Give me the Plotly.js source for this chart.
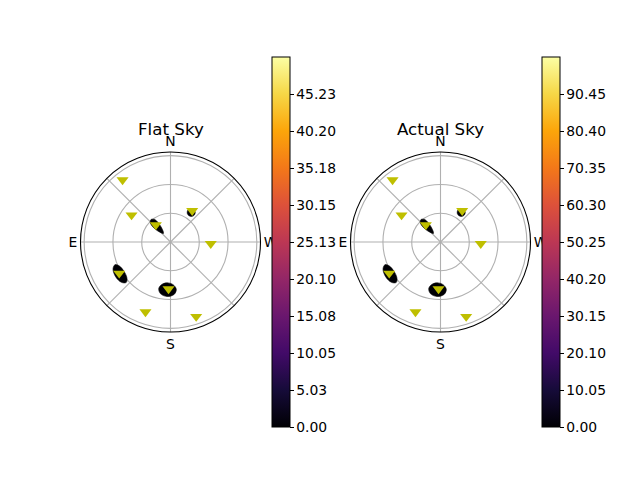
<!DOCTYPE html>
<html><head><meta charset="utf-8">
<script src="https://cdn.plot.ly/plotly-3.0.1.min.js"></script>
<style>html,body{margin:0;padding:0;background:#fff}</style>
</head><body><div id="plot" style="width:640px;height:480px"></div>
<script>
// Star positions (azimuth deg, zenith distance) — same stars on both panels
const starAz  = [37.7, 55.3, 40.8, 325.3, 267.6, 121.4, 177.6, 160.3, 199.0];
const starZen = [81.7, 49.4, 23.4, 39.7, 42.0, 62.6, 49.0, 77.4, 82.2];

// Density blobs (outline points: zenith distance, azimuth)
const blobSouthZen = [56.9, 54.8, 49.8, 44.8, 42.7, 44.8, 49.8, 54.8, 56.9];
const blobSouthAz  = [176.4, 183.9, 187.0, 183.9, 176.4, 168.9, 165.8, 168.9, 176.4];
const blobSEZen = [67.7, 66.2, 62.5, 58.8, 57.3, 58.8, 62.5, 66.2, 67.7];
const blobSEAz  = [122.3, 129.4, 132.4, 129.4, 122.3, 115.2, 112.2, 115.2, 122.3];
const blobNEZen = [31.0, 28.5, 21.0, 14.0, 11.5, 14.0, 21.0, 28.5, 31.0];
const blobNEAz  = [41.0, 47.0, 50.0, 46.0, 40.0, 34.0, 32.0, 35.0, 41.0];
const blobNWZen = [41.5, 40.5, 37.5, 34.5, 33.5, 34.5, 37.5, 40.5, 41.5];
const blobNWAz  = [325.0, 329.5, 331.5, 329.5, 325.0, 320.5, 318.5, 320.5, 325.0];

// Colorbar scales
const flatMax = 50.25;
const flatTicks = [0, 5.025, 10.05, 15.075, 20.1, 25.125, 30.15, 35.175, 40.2, 45.225];
const flatTickText = ['0.00','5.03','10.05','15.08','20.10','25.13','30.15','35.18','40.20','45.23'];
const actualMax = 100.5;
const actualTicks = [0, 10.05, 20.1, 30.15, 40.2, 50.25, 60.3, 70.35, 80.4, 90.45];
const actualTickText = ['0.00','10.05','20.10','30.15','40.20','50.25','60.30','70.35','80.40','90.45'];

const azTicks = [0, 45, 90, 135, 180, 225, 270, 315];
const azTickText = ['N', '', 'E', '', 'S', '', 'W', ''];

const inferno = [
  [0.0, '#000004'], [0.1, '#160b39'], [0.2, '#420a68'], [0.3, '#6a176e'],
  [0.4, '#932667'], [0.5, '#bc3754'], [0.6, '#dd513a'], [0.7, '#f37819'],
  [0.8, '#fca50a'], [0.9, '#f6d746'], [1.0, '#fcffa4']
];

const FONT = 'DejaVu Sans, sans-serif';
const blobs = [[blobSouthZen, blobSouthAz], [blobSEZen, blobSEAz], [blobNEZen, blobNEAz], [blobNWZen, blobNWAz]];

const traces = [];
['polar', 'polar2'].forEach(function (sp, i) {
  blobs.forEach(function (b) {
    traces.push({
      type: 'scatterpolar', subplot: sp, r: b[0], theta: b[1], mode: 'lines',
      line: {color: '#000004', width: 0.6, shape: 'spline'},
      fill: 'toself', fillcolor: '#000004', hoverinfo: 'skip', showlegend: false
    });
  });
  traces.push({
    type: 'scatterpolar', subplot: sp, r: starZen, theta: starAz, mode: 'markers',
    marker: {symbol: 'triangle-down', size: 10.5, color: '#bfbf00'}, showlegend: false
  });
  const max = i === 0 ? flatMax : actualMax;
  traces.push({
    type: 'scatterpolar', subplot: sp, r: [0], theta: [0], mode: 'markers',
    marker: {
      size: 1, opacity: 0, color: [0], cmin: 0, cmax: max, colorscale: inferno, showscale: true,
      colorbar: {
        x: (i === 0 ? 272.3 : 542.3) / 640, xanchor: 'left', xpad: 0, ypad: 0,
        y: 1 - 242 / 480, yanchor: 'middle', len: 370, lenmode: 'pixels',
        thickness: 18.4, thicknessmode: 'pixels',
        outlinewidth: 1, outlinecolor: 'black',
        ticks: 'outside', ticklen: 3.5, tickwidth: 1, tickcolor: 'black',
        tickmode: 'array', tickvals: i === 0 ? flatTicks : actualTicks,
        ticktext: i === 0 ? flatTickText : actualTickText,
        tickfont: {family: FONT, size: 13.9, color: 'black'}
      }
    },
    showlegend: false, hoverinfo: 'skip'
  });
});

function polarCfg(cx) {
  return {
    domain: {x: [(cx - 90) / 640, (cx + 90) / 640], y: [1 - 332 / 480, 1 - 152 / 480]},
    bgcolor: 'white',
    radialaxis: {range: [0, 93.8], tickmode: 'array', tickvals: [30, 60, 90], showticklabels: false,
      ticks: '', showline: false, gridcolor: '#b0b0b0', gridwidth: 1.1},
    angularaxis: {rotation: 90, direction: 'counterclockwise', tickmode: 'array',
      tickvals: azTicks, ticktext: azTickText, ticks: '', showline: true,
      linecolor: 'black', linewidth: 1.1, gridcolor: '#b0b0b0', gridwidth: 1.1,
      tickfont: {family: FONT, size: 13.9, color: 'black'}}
  };
}

const layout = {
  width: 640, height: 480, margin: {l: 0, r: 0, t: 0, b: 0},
  paper_bgcolor: 'white', showlegend: false,
  font: {family: FONT, color: 'black'},
  polar: polarCfg(170.5),
  polar2: polarCfg(440.5),
  annotations: [
    {text: 'Flat Sky', x: 170.5 / 640, y: 1 - 128.5 / 480, xref: 'paper', yref: 'paper',
     xanchor: 'center', yanchor: 'middle', showarrow: false, font: {family: FONT, size: 16.7, color: 'black'}},
    {text: 'Actual Sky', x: 440.5 / 640, y: 1 - 128.5 / 480, xref: 'paper', yref: 'paper',
     xanchor: 'center', yanchor: 'middle', showarrow: false, font: {family: FONT, size: 16.7, color: 'black'}}
  ]
};

Plotly.newPlot('plot', traces, layout, {staticPlot: true, displayModeBar: false});
</script></body></html>
